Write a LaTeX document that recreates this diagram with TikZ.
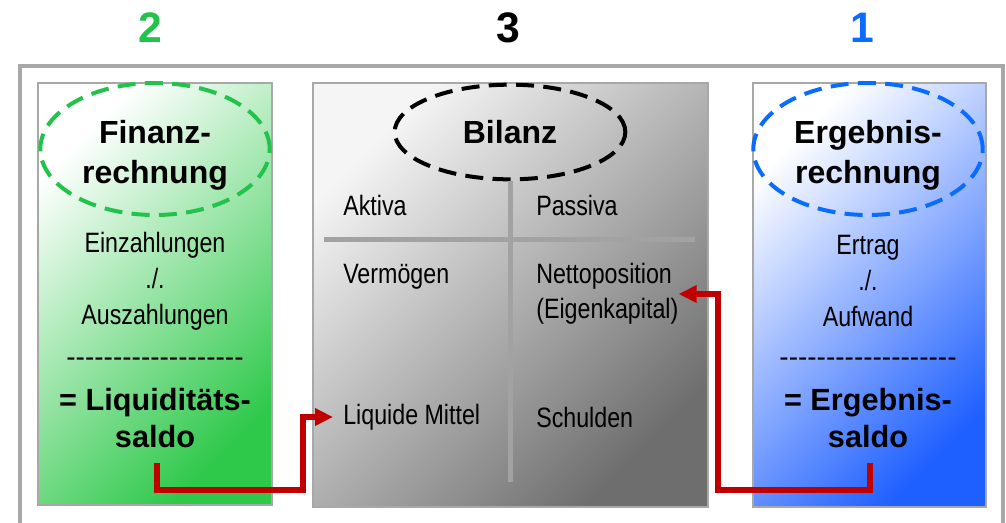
\documentclass[tikz,border=0pt]{standalone}
\usepackage{fontspec}
\setmainfont{Liberation Sans}
\newfontfamily\narrowfont{Liberation Sans}[FakeStretch=0.83]
\usetikzlibrary{shapes.geometric,arrows.meta}

\definecolor{framegray}{HTML}{A8A8A8}
\definecolor{splitgray}{HTML}{A2A2A2}
\definecolor{fingreen}{HTML}{2EC84A}
\definecolor{ergblue}{HTML}{1E5FFF}
\definecolor{bilgray}{HTML}{6E6E6E}
\definecolor{numgreen}{HTML}{22C34A}
\definecolor{numblue}{HTML}{0A6CFF}
\definecolor{flowred}{HTML}{C00000}

% a row of single hyphens (no -- or --- ligatures)
\newcommand\hyphenrow{\foreach \i in {1,...,19}{-\kern0pt}}

\begin{document}
\begin{tikzpicture}[x=0.75pt, y=-0.75pt,
    panel/.style={draw=framegray, line width=2.2pt, shading angle=45},
    lens/.style={ellipse, draw=#1, dashed, line width=3pt, dash pattern=on 13.5pt off 7pt,
                 inner sep=0pt, align=center, font=\fontsize{24}{30}\selectfont\bfseries},
    step num/.style={font=\fontsize{32}{36}\selectfont\bfseries},
    body/.style={font=\narrowfont\fontsize{21}{27}\selectfont, align=center},
    rule/.style={font=\fontsize{21}{27}\selectfont},
    sum/.style={font=\fontsize{23}{28}\selectfont\bfseries, align=center},
    cell/.style={font=\narrowfont\fontsize{21}{26}\selectfont, anchor=west, inner sep=0pt, align=left},
    split/.style={splitgray, line width=3.75pt},
    flow/.style={flowred, line width=4.5pt, -{Triangle[length=13.5pt,width=12.5pt]}}]
    \useasboundingbox (0,0) rectangle (1006,522);
    \clip (0,0) rectangle (1006,522);

    % outer frame
    \draw[framegray, line width=3pt] (20,560) -- (20,66) -- (1003,66) -- (1003,560);

    % step numbers
    \node[step num, numgreen] (n2) at (150,28) {2};
    \node[step num, black] (n3) at (508,28) {3};
    \node[step num, numblue] (n1) at (862,28) {1};

    % panels
    \shade[panel, top color=white, bottom color=fingreen, shading angle=45] (38,83) rectangle (272,505);
    \shade[panel, top color=gray!8, bottom color=bilgray, shading angle=45] (313,83) rectangle (708,507);
    \shade[panel, top color=white, bottom color=ergblue, shading angle=45] (753,83) rectangle (986,507);

    % Finanzrechnung
    \node[lens=numgreen, minimum width=172pt, minimum height=99pt] (fin) at (155,149) {};
    \node[lens=none, draw=none] (fintitle) at (155,155) {Finanz-\\rechnung};
    \node[body] (finbody) at (155,281) {Einzahlungen\\./.\\Auszahlungen};
    \node[rule] (finrule) at (155,362) {\hyphenrow};
    \node[sum] (lsaldo) at (155,418) {= Liquiditäts-\\saldo};

    % Bilanz
    \node[lens=black, minimum width=173pt, minimum height=71pt] (bil) at (510,132) {Bilanz};
    \draw[split] (bil.south) -- (510,482);
    \draw[split] (324,239) -- (695,239);
    \node[cell] (akt) at (343,205) {Aktiva};
    \node[cell] (pas) at (536,205) {Passiva};
    \node[cell] (verm) at (343,277) {Vermögen};
    \node[cell] (netto) at (536,294) {Nettoposition\\(Eigenkapital)};
    \node[cell] (liq) at (343,417) {Liquide Mittel};
    \node[cell] (schuld) at (536,417) {Schulden};

    % Ergebnisrechnung
    \node[lens=numblue, minimum width=172pt, minimum height=99pt] (erg) at (868,149) {};
    \node[lens=none, draw=none] (ergtitle) at (868,155) {Ergebnis-\\rechnung};
    \node[body] (ergbody) at (868,281) {Ertrag\\./.\\Aufwand};
    \node[rule] (ergrule) at (868,362) {\hyphenrow};
    \node[sum] (rsaldo) at (868,418) {= Ergebnis-\\saldo};

    % flows into the Bilanz
    \coordinate (lout) at (157,463);
    \coordinate (lturn) at (303,490);
    \coordinate (rout) at (870,463);
    \coordinate (rturn) at (718,490);
    \draw[flow, shorten >=7.5pt] (lout) |- (lturn) |- (liq.west);
    \draw[flow] (rout) |- (rturn) |- (netto.east);
\end{tikzpicture}
\end{document}
